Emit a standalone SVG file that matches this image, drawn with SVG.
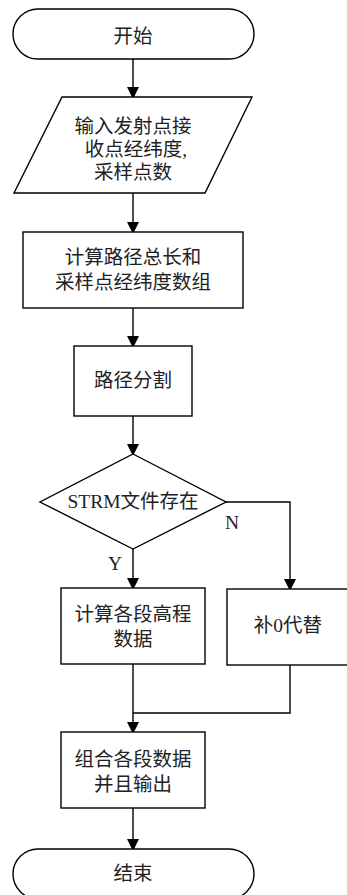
<svg xmlns="http://www.w3.org/2000/svg" width="347" height="895" viewBox="0 0 347 895">
<defs>
<marker id="arr" markerWidth="10" markerHeight="12" refX="10" refY="6" orient="auto" markerUnits="userSpaceOnUse">
<path d="M0,0 L12,6 L0,12 Z" fill="#000"/>
</marker>
<style>
.s{fill:#fff;stroke:#000;stroke-width:1.4}
.c{fill:none;stroke:#000;stroke-width:1.4}
.t{font-family:"Liberation Serif","Noto Sans CJK SC",serif;font-size:19.5px;fill:#222;text-anchor:middle;dominant-baseline:central}
</style>
</defs>
<rect width="347" height="895" fill="#fff"/>
<g id="connectors">
<path class="c" d="M133,59 V97" marker-end="url(#arr)"/>
<path class="c" d="M133,193 V232" marker-end="url(#arr)"/>
<path class="c" d="M133,308 V346" marker-end="url(#arr)"/>
<path class="c" d="M133,416 V454" marker-end="url(#arr)"/>
<path class="c" d="M133,549 V588" marker-end="url(#arr)"/>
<path class="c" d="M226,502 H290 V589" marker-end="url(#arr)"/>
<path class="c" d="M133,664 V732" marker-end="url(#arr)"/>
<path class="c" d="M290,665 V713 H133"/>
<path class="c" d="M133,808 V849" marker-end="url(#arr)"/>
<text class="t" x="232" y="522">N</text>
<text class="t" x="115" y="563">Y</text>
</g>
<g id="start">
<rect class="s" x="13" y="9" width="241" height="50" rx="25" ry="25"/>
<text class="t" x="133" y="36">开始</text>
</g>
<g id="input">
<polygon class="s" points="62,97 252,97 205,193 14,193"/>
<text class="t" x="133" y="126">输入发射点接</text>
<text class="t" x="136" y="149">收点经纬度,</text>
<text class="t" x="133" y="172">采样点数</text>
</g>
<g id="calc">
<rect class="s" x="23" y="232" width="220" height="76"/>
<text class="t" x="133" y="257">计算路径总长和</text>
<text class="t" x="133" y="282">采样点经纬度数组</text>
</g>
<g id="split">
<rect class="s" x="74" y="346" width="118" height="70"/>
<text class="t" x="133" y="380">路径分割</text>
</g>
<g id="decision">
<polygon class="s" points="133,454 226,502 133,549 40,502"/>
<text class="t" x="133" y="501">STRM文件存在</text>
</g>
<g id="elev">
<rect class="s" x="61" y="588" width="144" height="76"/>
<text class="t" x="133" y="614">计算各段高程</text>
<text class="t" x="133" y="639">数据</text>
</g>
<g id="zero">
<rect class="s" x="227" y="589" width="126" height="76"/>
<text class="t" x="288" y="625">补0代替</text>
</g>
<g id="combine">
<rect class="s" x="61" y="732" width="144" height="76"/>
<text class="t" x="133" y="759">组合各段数据</text>
<text class="t" x="133" y="784">并且输出</text>
</g>
<g id="end">
<rect class="s" x="13" y="849" width="241" height="50" rx="25" ry="25"/>
<text class="t" x="133" y="873">结束</text>
</g>
</svg>
